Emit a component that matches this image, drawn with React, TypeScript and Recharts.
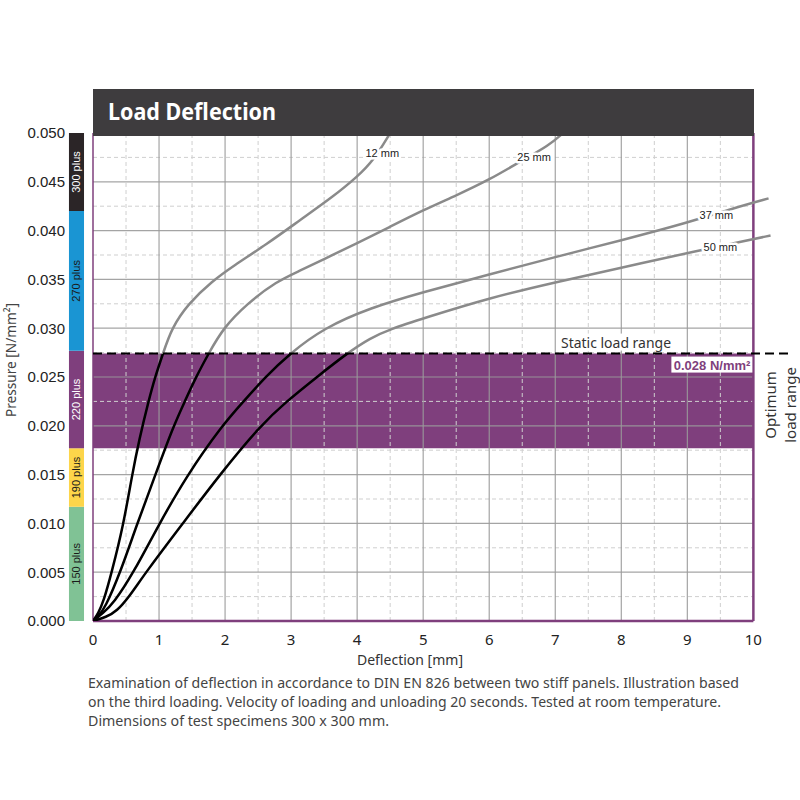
import React from 'react';
import { LineChart, Line, XAxis, YAxis, ReferenceArea, ReferenceLine, ReferenceDot } from 'recharts';

// ---------- data ----------
const xTicks = [0, 1, 2, 3, 4, 5, 6, 7, 8, 9, 10];
const xMinor = [0.5, 1.5, 2.5, 3.5, 4.5, 5.5, 6.5, 7.5, 8.5, 9.5];
const xMajorInner = [1, 2, 3, 4, 5, 6, 7, 8, 9];
const yTicks = [0, 0.005, 0.01, 0.015, 0.02, 0.025, 0.03, 0.035, 0.04, 0.045, 0.05];
const yMajorInner = [0.005, 0.01, 0.015, 0.02, 0.025, 0.03, 0.035, 0.04, 0.045];
const yMinor = [0.0025, 0.0075, 0.0125, 0.0175, 0.0225, 0.0275, 0.0325, 0.0375, 0.0425, 0.0475];

const bandLabels = ['150 plus', '190 plus', '220 plus', '270 plus', '300 plus'];
const bandFrom = [0, 0.0117, 0.0177, 0.0277, 0.042];
const bandTo = [0.0117, 0.0177, 0.0277, 0.042, 0.05];

const staticLoad = 0.0274;
const optimumLow = 0.0177;
const staticLoadText = '0.028 N/mm²';

const curve12: [number, number][] = [[0, 0], [0.08, 0.0008], [0.16, 0.002], [0.28, 0.0049], [0.46, 0.0098], [0.59, 0.0149], [0.7, 0.0186], [0.84, 0.0225], [0.94, 0.025], [1.06, 0.0274], [1.19, 0.03], [1.44, 0.0325], [1.8, 0.0348], [2.13, 0.0364], [2.63, 0.0386], [3.14, 0.0411], [3.64, 0.0435], [4.0, 0.0455], [4.25, 0.0472], [4.5, 0.05]];
const curve25: [number, number][] = [[0, 0], [0.08, 0.0005], [0.18, 0.0013], [0.41, 0.0049], [0.66, 0.0098], [0.94, 0.0149], [1.22, 0.02], [1.39, 0.0225], [1.56, 0.025], [1.75, 0.0274], [1.97, 0.03], [2.33, 0.0325], [2.78, 0.0348], [3.14, 0.0359], [3.5, 0.0371], [4.0, 0.0387], [4.5, 0.0404], [5.0, 0.0421], [5.5, 0.0436], [6.0, 0.0452], [6.5, 0.0472], [6.9, 0.0487], [7.12, 0.05]];
const curve37: [number, number][] = [[0, 0], [0.15, 0.0008], [0.31, 0.0018], [0.61, 0.0049], [0.99, 0.0098], [1.42, 0.0149], [1.95, 0.02], [2.28, 0.0225], [2.61, 0.025], [2.98, 0.0274], [3.49, 0.03], [4.2, 0.0321], [5.0, 0.0337], [6.0, 0.0355], [7.0, 0.0373], [8.0, 0.039], [9.0, 0.0408], [9.7, 0.0423], [10.23, 0.0433]];
const curve50: [number, number][] = [[0, 0], [0.2, 0.0004], [0.36, 0.001], [0.55, 0.0025], [0.8, 0.005], [1.36, 0.01], [1.92, 0.015], [2.53, 0.02], [2.93, 0.0225], [3.39, 0.025], [3.84, 0.0274], [4.2, 0.029], [4.5, 0.0299], [5.0, 0.031], [6.0, 0.0331], [7.0, 0.0347], [8.0, 0.0362], [9.2, 0.038], [9.77, 0.0388], [10.26, 0.0395]];

const curveLabels = ['12 mm', '25 mm', '37 mm', '50 mm'];
const curveLabelX = [4.38, 6.68, 9.44, 9.5];
const curveLabelY = [0.048, 0.0475, 0.0416, 0.0383];

const captionLines = [
  'Examination of deflection in accordance to DIN EN 826 between two stiff panels. Illustration based',
  'on the third loading. Velocity of loading and unloading 20 seconds. Tested at room temperature.',
  'Dimensions of test specimens 300 x 300 mm.',
];

// ---------- styles ----------
const PURPLE = '#7f3f7d';
const GRAY_CURVE = '#8a8a8a';
const bandFills = ['#80c295', '#fdd54a', PURPLE, '#1a95d3', '#2b2527'];
const bandTextFills = ['#1a1a1a', '#1a1a1a', '#ffffff', '#1a1a1a', '#ffffff'];
const captionWidths = [651, 633, 301];
const HUMAN = "'Noto Sans', 'Open Sans', sans-serif";
const ARIAL = "'Liberation Sans', Arial, sans-serif";

const curves = [curve12, curve25, curve37, curve50];
const toPts = (arr: [number, number][]) => arr.map(([x, y]) => ({ x, y }));

const BandLabel = (text: string, fill: string) => (props: any) => {
  const vb = props.viewBox || {};
  const cx = vb.x + vb.width / 2;
  const cy = vb.y + vb.height / 2;
  return (
    <text x={cx} y={cy} transform={`rotate(-90, ${cx}, ${cy})`} textAnchor="middle" dominantBaseline="central"
      fontSize={11} fontFamily={ARIAL} fill={fill}>{text}</text>
  );
};

const CurveLabel = (text: string) => (props: any) => {
  const vb = props.viewBox || {};
  return (
    <text x={vb.x} y={vb.y} textAnchor="middle" dominantBaseline="central" fontSize={11} fontFamily={ARIAL}
      fill="#222" stroke="#fff" strokeWidth={5} paintOrder="stroke" strokeLinejoin="round">{text}</text>
  );
};

const StaticLabel = (props: any) => {
  const vb = props.viewBox || {};
  return (
    <g>
      <rect x={vb.x - 58} y={vb.y - 20} width={116} height={17} fill="#fff" />
      <text x={vb.x} y={vb.y - 6} textAnchor="middle" fontSize={14} fontFamily={HUMAN} fill="#333" textLength={110} lengthAdjust="spacingAndGlyphs">Static load range</text>
    </g>
  );
};

const ValueLabel = (props: any) => {
  const vb = props.viewBox || {};
  return (
    <g>
      <rect x={vb.x - 82} y={vb.y + 3} width={81} height={16} fill="#fff" />
      <text x={vb.x - 3} y={vb.y + 16} textAnchor="end" fontSize={13} fontWeight="bold" fontFamily={ARIAL} fill={PURPLE}>{staticLoadText}</text>
    </g>
  );
};

const OptimumLabel = (props: any) => {
  const vb = props.viewBox || {};
  const x1 = vb.x + 17;
  const x2 = vb.x + 37;
  const cy = vb.y + 4;
  return (
    <g fontSize={15} fontFamily={HUMAN} fill="#333">
      <text x={x1} y={cy} transform={`rotate(-90, ${x1}, ${cy})`} textAnchor="middle" dominantBaseline="central">Optimum</text>
      <text x={x2} y={cy} transform={`rotate(-90, ${x2}, ${cy})`} textAnchor="middle" dominantBaseline="central">load range</text>
    </g>
  );
};

export default function App() {
  const gridSolid = { stroke: '#9a9a9a', strokeWidth: 1.2, strokeOpacity: 0.9 };
  const gridDash = { stroke: '#cfcfcf', strokeWidth: 1, strokeDasharray: '4 3' };
  return (
    <div style={{ position: 'absolute', left: 0, top: 0, width: 800, height: 800, background: '#fff' }}>
      <svg width={0} height={0} style={{ position: 'absolute', left: 0, top: 0 }}>
        <defs>
          {curves.map((c, i) => {
            const maxY = Math.max(...c.map((p) => p[1]));
            const f = staticLoad / maxY;
            return (
              <linearGradient key={'g' + i} id={'curveGrad' + i} x1="0" y1="1" x2="0" y2="0">
                <stop offset={0} stopColor="#000" />
                <stop offset={f} stopColor="#000" />
                <stop offset={f} stopColor={GRAY_CURVE} />
                <stop offset={1} stopColor={GRAY_CURVE} />
              </linearGradient>
            );
          })}
        </defs>
      </svg>
      <LineChart width={800} height={800} margin={{ top: 133, right: 7, bottom: 149, left: 65 }}>
        <XAxis type="number" dataKey="x" domain={[0, 10.6]} ticks={xTicks} interval={0} axisLine={false} tickLine={false}
          tickSize={0} tickMargin={13} height={30} allowDataOverflow
          tick={{ fontSize: 15, fill: '#222', fontFamily: HUMAN }} />
        <YAxis type="number" dataKey="y" domain={[0, 0.05]} ticks={yTicks} interval={0} axisLine={false} tickLine={false}
          tickSize={0} tickMargin={28} width={28} allowDataOverflow
          tickFormatter={(v: number) => v.toFixed(3)}
          tick={{ fontSize: 15, fill: '#222', fontFamily: ARIAL }} />

        {bandLabels.map((lab, i) => (
          <ReferenceArea key={'band' + i} x1={-0.364} x2={-0.136} y1={bandFrom[i]} y2={bandTo[i]} ifOverflow="visible"
            fill={bandFills[i]} fillOpacity={1} stroke="none" label={BandLabel(lab, bandTextFills[i])} />
        ))}

        <ReferenceArea x1={0} x2={10} y1={optimumLow} y2={staticLoad} ifOverflow="visible" fill={PURPLE} fillOpacity={1} stroke="none" />

        {xMinor.map((v) => <ReferenceLine key={'xm' + v} x={v} {...gridDash} />)}
        {yMinor.map((v) => <ReferenceLine key={'ym' + v} segment={[{ x: 0, y: v }, { x: 10, y: v }]} {...gridDash} />)}
        {xMajorInner.map((v) => <ReferenceLine key={'xM' + v} x={v} {...gridSolid} />)}
        {yMajorInner.map((v) => <ReferenceLine key={'yM' + v} segment={[{ x: 0, y: v }, { x: 10, y: v }]} {...gridSolid} />)}

        <ReferenceLine x={0} stroke={PURPLE} strokeWidth={1.5} />
        <ReferenceLine x={10} stroke={PURPLE} strokeWidth={2.5} />
        <ReferenceLine segment={[{ x: 0, y: 0 }, { x: 10, y: 0 }]} stroke={PURPLE} strokeWidth={2.5} />

        {curves.map((c, i) => (
          <Line key={'c' + i} data={toPts(c)} dataKey="y" type="basis" stroke={`url(#curveGrad${i})`} strokeWidth={2.5}
            dot={false} activeDot={false} isAnimationActive={false} />
        ))}

        <ReferenceLine segment={[{ x: 0, y: staticLoad }, { x: 10.56, y: staticLoad }]} stroke="#000" strokeWidth={2} strokeDasharray="9 5" />

        {curveLabels.map((lab, i) => (
          <ReferenceDot key={'cl' + i} x={curveLabelX[i]} y={curveLabelY[i]} r={0} fill="none" stroke="none" label={CurveLabel(lab)} />
        ))}
        <ReferenceDot x={7.92} y={staticLoad} r={0} fill="none" stroke="none" label={StaticLabel} />
        <ReferenceDot x={10} y={staticLoad} r={0} fill="none" stroke="none" label={ValueLabel} />
        <ReferenceDot x={10} y={(staticLoad + optimumLow) / 2} r={0} fill="none" stroke="none" ifOverflow="visible" label={OptimumLabel} />
      </LineChart>

      <svg width={800} height={800} style={{ position: 'absolute', left: 0, top: 0, pointerEvents: 'none' }}>
        <rect x={93} y={89} width={661} height={47} fill="#3e3c3e" />
        <text x={108} y={120} fontSize={23} fontWeight="bold" fontFamily={HUMAN} fill="#fff" textLength={168} lengthAdjust="spacingAndGlyphs">Load Deflection</text>
        <text x={10} y={360} transform="rotate(-90, 10, 360)" textAnchor="middle" dominantBaseline="central" fontSize={15}
          fontFamily={HUMAN} fill="#444" textLength={114} lengthAdjust="spacingAndGlyphs">Pressure [N/mm²]</text>
        <text x={410} y={665} textAnchor="middle" fontSize={15} fontFamily={HUMAN} fill="#333" textLength={106} lengthAdjust="spacingAndGlyphs">Deflection [mm]</text>
        {captionLines.map((line, i) => (
          <text key={'cap' + i} x={88} y={688 + i * 19} fontSize={14} fontFamily={HUMAN} fill="#444"
            textLength={captionWidths[i]} lengthAdjust="spacingAndGlyphs">{line}</text>
        ))}
      </svg>
    </div>
  );
}
